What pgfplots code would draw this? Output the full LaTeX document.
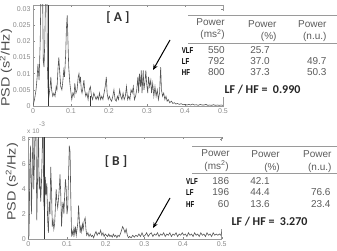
\documentclass[border=0pt]{standalone}
\usepackage{pgfplots}
\pgfplotsset{compat=1.18}
\usepackage{fontspec}
\setmainfont{Liberation Sans}
\newfontfamily\carl{Carlito}
\usetikzlibrary{arrows.meta}
\definecolor{trace}{HTML}{555555}
\definecolor{axc}{HTML}{9A9A9A}
\definecolor{tickc}{HTML}{8A8A8A}
\definecolor{tabc}{HTML}{5C5C5C}

\pgfplotstableread{
f v
0 0
0.004 2
0.008 5
0.011 9
0.013 13
0.016 8
0.019 20
0.022 45
0.025 38
0.027 14
0.029 12
0.031 20
0.034 40
0.036 45
0.038 12
0.040 4
0.042 3
0.045 6
0.047 9
0.049 5
0.052 3
0.055 4
0.058 3
0.061 6
0.063 5
0.066 12
0.068 15
0.070 11
0.073 6
0.076 5
0.078 7
0.081 11
0.083 9
0.086 16
0.088 24
0.090 28
0.092 20
0.094 12
0.097 7
0.100 4
0.102 2
0.105 4
0.108 3
0.110 7
0.113 4
0.116 5
0.119 9
0.121 10
0.123 7
0.125 9
0.127 5
0.129 4
0.132 6
0.134 8
0.136 5
0.139 3
0.142 4
0.145 2
0.148 5
0.151 6
0.154 3
0.157 2
0.160 4
0.163 3
0.166 2
0.169 3
0.172 2
0.175 4
0.178 2
0.181 3
0.184 2
0.187 4
0.190 6
0.193 9
0.195 4
0.198 2
0.201 3
0.204 2
0.207 1.5
0.210 3
0.213 5
0.216 2
0.219 1.5
0.222 3
0.225 2
0.228 5
0.231 3
0.234 2
0.237 4
0.240 2
0.243 3
0.246 6
0.249 2
0.252 3
0.255 2
0.258 5
0.261 4
0.264 6
0.267 2
0.270 3
0.273 5
0.276 9
0.278 4
0.280 10
0.283 6
0.285 11
0.287 4
0.290 11
0.292 5
0.295 8
0.297 11
0.299 7
0.302 4
0.304 9
0.307 6
0.310 8
0.312 4
0.315 7
0.318 3
0.321 6
0.324 3
0.327 5
0.330 2
0.333 4
0.336 12
0.338 5
0.341 3
0.344 4
0.347 2
0.350 3
0.353 1.5
0.356 2
0.360 1
0.364 1.5
0.368 0.8
0.372 1
0.376 0.6
0.380 0.8
0.385 0.5
0.390 0.7
0.395 0.4
0.400 0.5
0.405 0.3
0.410 0.5
0.415 0.3
0.420 0.6
0.425 0.3
0.430 0.4
0.435 0.2
0.440 0.5
0.445 0.3
0.450 0.3
0.455 0.5
0.460 0.2
0.465 0.3
0.470 0.2
0.475 0.4
0.480 0.2
0.485 0.3
0.490 0.2
0.495 0.3
0.500 0.2
}\dataA

\pgfplotstableread{
f v
0 0
0.002 0.3
0.004 6
0.006 7.5
0.008 2
0.010 5
0.012 9
0.014 4
0.016 6.5
0.018 10
0.020 8
0.022 1.5
0.024 5
0.026 10
0.028 4
0.030 5
0.032 3
0.034 4.5
0.036 7
0.038 10
0.040 3
0.042 2
0.044 5
0.046 3.5
0.048 4.5
0.050 1.5
0.052 0.5
0.054 3
0.056 2
0.058 5.8
0.060 4
0.062 1
0.064 1.5
0.066 0.8
0.068 1.2
0.070 2.5
0.072 4
0.074 3
0.076 2.5
0.078 3.2
0.080 4
0.082 5.2
0.084 3.5
0.086 1
0.088 2.5
0.090 3
0.092 2
0.094 3.5
0.096 4.8
0.098 4
0.100 2
0.102 2.5
0.104 5
0.106 7.5
0.108 7
0.110 3
0.112 0.2
0.114 0.6
0.116 0.3
0.118 0.9
0.120 0.4
0.122 1
0.124 0.3
0.126 0.8
0.128 1.3
0.130 2.7
0.132 1.5
0.134 0.5
0.136 1
0.138 0.6
0.140 1.2
0.142 0.8
0.144 1.4
0.147 1.7
0.149 0.8
0.151 0.3
0.154 0.5
0.157 0.2
0.160 0.4
0.163 0.2
0.166 0.3
0.169 0.1
0.172 0.4
0.175 0.6
0.178 0.3
0.181 0.5
0.184 0.4
0.187 0.7
0.190 0.3
0.193 0.5
0.196 0.2
0.199 0.4
0.202 0.3
0.205 0.2
0.208 0.4
0.211 0.2
0.214 0.3
0.217 0.15
0.220 0.4
0.223 0.2
0.226 0.3
0.229 0.1
0.232 0.3
0.235 0.2
0.238 0.4
0.241 0.7
0.244 1.0
0.247 0.8
0.250 0.5
0.253 0.8
0.256 0.3
0.259 0.1
0.262 0.2
0.266 0.1
0.270 0.3
0.274 0.15
0.278 0.3
0.282 0.2
0.286 0.4
0.290 0.2
0.294 0.5
0.298 0.2
0.302 0.3
0.306 0.5
0.310 0.2
0.314 0.4
0.318 0.5
0.322 0.2
0.326 0.4
0.330 0.3
0.334 0.5
0.338 0.2
0.342 0.4
0.346 0.3
0.350 0.5
0.354 0.2
0.358 0.4
0.362 0.3
0.366 0.5
0.370 0.2
0.374 0.4
0.378 0.3
0.382 0.5
0.386 0.2
0.390 0.4
0.394 0.3
0.398 0.5
0.402 0.3
0.406 0.4
0.410 0.2
0.414 0.5
0.418 0.3
0.422 0.4
0.426 0.2
0.430 0.5
0.434 0.3
0.438 0.4
0.442 0.2
0.446 0.5
0.450 0.3
0.454 0.4
0.458 0.2
0.462 0.5
0.466 0.3
0.470 0.4
0.474 0.2
0.478 0.5
0.482 0.3
0.486 0.4
0.490 0.3
0.494 0.4
0.498 0.3
0.500 0.6
}\dataB

\pgfplotsset{
  psd/.style={
    scale only axis,
    xmin=0, xmax=0.5, ymin=0,
    axis line style={axc, line width=0.5pt},
    tick style={tickc, line width=0.4pt},
    tick align=inside,
    major tick length=2pt,
    xtick={0,0.1,0.2,0.3,0.4,0.5},
    xticklabels={0,0.1,0.2,0.3,0.4,0.5},
    ticklabel style={font=\fontsize{7}{8}\selectfont, text=tickc},
    /pgf/number format/assume math mode=true,
    xticklabel shift=-1pt,
    yticklabel shift=-1pt,
    clip=true,
  }
}

\begin{document}
\begin{tikzpicture}
\useasboundingbox (0pt,0pt) rectangle (337pt,-251pt);

% ---------------- Top axis [A]
\begin{axis}[psd,
  at={(33pt,-106pt)}, anchor=south west,
  width=190pt, height=101pt,
  ymax=31.2,
  ytick={0,5,10,15,20,25,30},
  yticklabels={0,0.005,0.01,0.015,0.02,0.025,0.03},
]
\addplot[trace, line width=0.6pt] table[x=f,y=v] {\dataA};
\draw[black!80, line width=0.5pt] (axis cs:0.04,0) -- (axis cs:0.04,31.2);
\draw[black!80, line width=0.5pt] (axis cs:0.15,0) -- (axis cs:0.15,3);
\end{axis}

% ---------------- Bottom axis [B]
\begin{axis}[psd,
  at={(28.3pt,-239pt)}, anchor=south west,
  width=193.4pt, height=102pt,
  ymax=8.2,
  ytick={0,2,4,6,8},
  yticklabels={0,2,4,6,8},
]
\addplot[trace, line width=0.6pt] table[x=f,y=v] {\dataB};
\draw[black!80, line width=0.5pt] (axis cs:0.04,0) -- (axis cs:0.04,8.2);
\end{axis}

% white table backgrounds
\fill[white] (186pt,-11pt) rectangle (337pt,-97pt);
\fill[white] (186pt,-141pt) rectangle (337pt,-229pt);

% y labels
\node[rotate=90, text=black!70, font=\fontsize{12}{13}\selectfont] at (6pt,-68pt) {\scalebox{1.2}[1]{PSD (s\textsuperscript{2}/Hz)}};
\node[rotate=90, text=black!70, font=\fontsize{12}{13}\selectfont] at (12pt,-182pt) {\scalebox{1.2}[1]{PSD (s\textsuperscript{2}/Hz)}};

% x 10^-3
\node[anchor=base west, inner sep=0pt, text=tickc, font=\fontsize{6.5}{7}\selectfont] at (27pt,-133pt) {x 10};
\node[anchor=base west, inner sep=0pt, text=tickc, font=\fontsize{6.5}{7}\selectfont] at (39pt,-126pt) {-3};

% panel labels
\node[text=black!80, font=\carl\bfseries\fontsize{13.5}{14}\selectfont] at (118pt,-18pt) {[ A ]};
\node[text=black!80, font=\carl\bfseries\fontsize{13.5}{14}\selectfont] at (116pt,-162pt) {[ B ]};

% arrows
\draw[black, line width=1pt, -{Stealth[length=5.5pt,width=4.5pt]}] (170pt,-40pt) -- (153pt,-70pt);
\draw[black, line width=1pt, -{Stealth[length=5.5pt,width=4.5pt]}] (170pt,-198pt) -- (153pt,-228pt);

% ---------------- Table A
\draw[axc, line width=0.6pt] (188pt,-15pt) -- (337pt,-15pt);
\draw[axc, line width=0.6pt] (188pt,-43.3pt) -- (337pt,-43.3pt);
\begin{scope}[every node/.style={inner sep=0pt, text=tabc, font=\fontsize{10}{11}\selectfont}]
\node[anchor=base east] at (225pt,-25.7pt) {Power};
\node[anchor=base east] at (225pt,-37.7pt) {(ms\textsuperscript{2})};
\node[anchor=base east] at (276.7pt,-27.3pt) {Power};
\node[anchor=base east] at (276.7pt,-39.3pt) {(\%)};
\node[anchor=base east] at (326.7pt,-27.3pt) {Power};
\node[anchor=base east] at (326.7pt,-39.3pt) {(n.u.)};
\node[anchor=base east] at (225pt,-53.3pt) {550};
\node[anchor=base east] at (225pt,-64.3pt) {792};
\node[anchor=base east] at (225pt,-76pt) {800};
\node[anchor=base east] at (270pt,-53.3pt) {25.7};
\node[anchor=base east] at (270pt,-64.3pt) {37.0};
\node[anchor=base east] at (270pt,-76pt) {37.3};
\node[anchor=base east] at (326.7pt,-64.3pt) {49.7};
\node[anchor=base east] at (326.7pt,-76pt) {50.3};
\end{scope}
\begin{scope}[every node/.style={inner sep=0pt, text=black, font=\bfseries\fontsize{8.5}{9}\selectfont, anchor=base west}]
\node at (181.7pt,-53.3pt) {\scalebox{0.72}[1]{VLF}};
\node at (181.7pt,-64.3pt) {\scalebox{0.72}[1]{LF}};
\node at (181.7pt,-76pt) {\scalebox{0.72}[1]{HF}};
\end{scope}
\node[anchor=base, inner sep=0pt, text=black!85, font=\carl\bfseries\fontsize{12}{13}\selectfont] at (262.5pt,-93.3pt) {LF / HF =\ \ 0.990};

% ---------------- Table B
\draw[axc, line width=0.6pt] (192pt,-146pt) -- (337pt,-146pt);
\draw[axc, line width=0.6pt] (192pt,-173.3pt) -- (337pt,-173.3pt);
\begin{scope}[every node/.style={inner sep=0pt, text=tabc, font=\fontsize{10}{11}\selectfont}]
\node[anchor=base east] at (230pt,-156pt) {Power};
\node[anchor=base east] at (229pt,-169.3pt) {(ms\textsuperscript{2})};
\node[anchor=base east] at (280pt,-157.7pt) {Power};
\node[anchor=base east] at (280pt,-170pt) {(\%)};
\node[anchor=base east] at (331.7pt,-157.7pt) {Power};
\node[anchor=base east] at (331.7pt,-170pt) {(n.u.)};
\node[anchor=base east] at (229.3pt,-184pt) {186};
\node[anchor=base east] at (229.3pt,-195.7pt) {196};
\node[anchor=base east] at (229.3pt,-207.7pt) {60};
\node[anchor=base east] at (270pt,-184pt) {42.1};
\node[anchor=base east] at (270pt,-195.7pt) {44.4};
\node[anchor=base east] at (270pt,-207.7pt) {13.6};
\node[anchor=base east] at (330.7pt,-195.7pt) {76.6};
\node[anchor=base east] at (330.7pt,-207.7pt) {23.4};
\end{scope}
\begin{scope}[every node/.style={inner sep=0pt, text=black, font=\bfseries\fontsize{8.5}{9}\selectfont, anchor=base west}]
\node at (186pt,-184pt) {\scalebox{0.72}[1]{VLF}};
\node at (186pt,-195.7pt) {\scalebox{0.72}[1]{LF}};
\node at (186pt,-207.7pt) {\scalebox{0.72}[1]{HF}};
\end{scope}
\node[anchor=base, inner sep=0pt, text=black!85, font=\carl\bfseries\fontsize{12}{13}\selectfont] at (269.5pt,-225pt) {LF / HF =\ \ 3.270};

\end{tikzpicture}
\end{document}
